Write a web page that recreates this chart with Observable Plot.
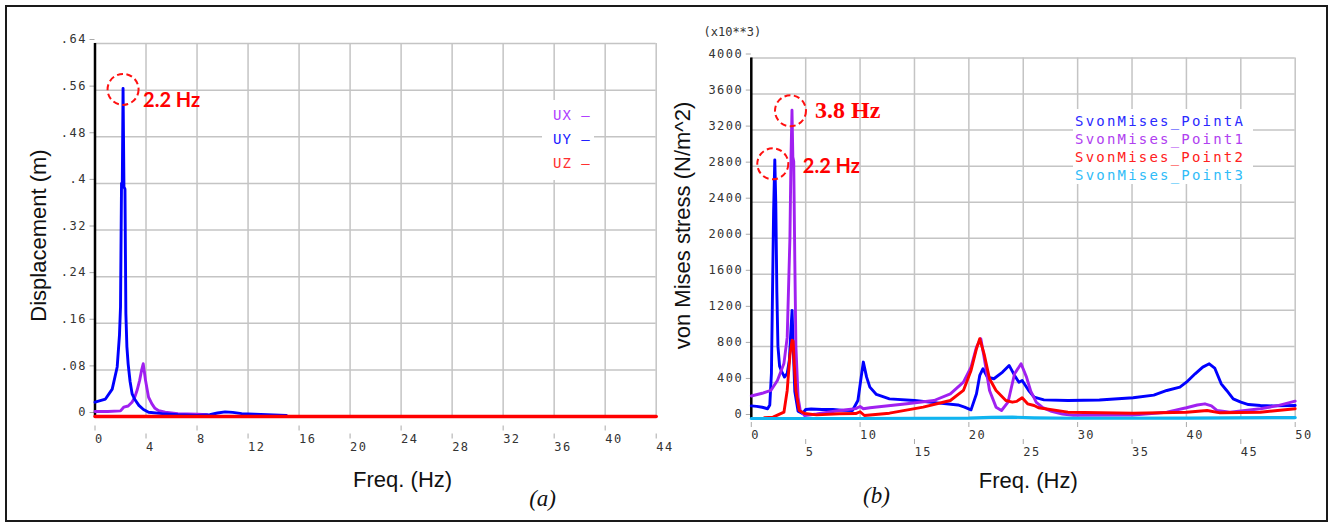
<!DOCTYPE html>
<html><head><meta charset="utf-8">
<script src="https://cdn.jsdelivr.net/npm/d3@7"></script>
<script src="https://cdn.jsdelivr.net/npm/@observablehq/plot@0.6"></script>
<style>
html,body{margin:0;padding:0;background:#fff;}
#wrap{position:relative;width:1338px;height:524px;overflow:hidden;background:#fff;}
#frame{position:absolute;left:5px;top:5px;width:1323px;height:517px;border:2px solid #1a1a1a;box-sizing:border-box;}
.panel{position:absolute;top:0;}
.legend{position:absolute;background:#fff;font-family:"DejaVu Sans Mono",monospace;font-size:14px;}
.legend div{white-space:pre;position:absolute;left:0;}
</style></head><body>
<div id="wrap">
  <div id="frame"></div>
  <div id="left" class="panel" style="left:0"></div>
  <div id="right" class="panel" style="left:669px"></div>
  <div id="legL" class="legend"></div>
  <div id="legR" class="legend"></div>
</div>
<script>
// ---------- Panel (a): displacement ----------
const xTicksLeft = [0, 4, 8, 12, 16, 20, 24, 28, 32, 36, 40, 44];
const yTicksLeft = [0, 0.08, 0.16, 0.24, 0.32, 0.4, 0.48, 0.56, 0.64];
const leftNames = ["UX", "UY", "UZ"];
const leftColors = ["#a020f0", "#0000ff", "#ff0000"];
const leftLegendColors = ["#b040ff", "#2020ff", "#ff3030"];

const uxFreq = [0, 1.0, 2.0, 2.25, 2.6, 2.9, 3.1, 3.3, 3.5, 3.65, 3.78, 3.88, 3.96, 4.2, 4.45, 4.7, 5.0, 5.5, 6.5, 8.0, 8.8];
const uxVal  = [0.0085, 0.0085, 0.0097, 0.016, 0.018, 0.0245, 0.032, 0.045, 0.062, 0.079, 0.0905, 0.075, 0.062, 0.033, 0.022, 0.014, 0.010, 0.0074, 0.005, 0.004, 0.003];
const uyFreq = [0, 0.82, 1.35, 1.74, 1.92, 2.0, 2.08, 2.14, 2.2, 2.27, 2.35, 2.42, 2.5, 2.6, 2.75, 2.91, 3.1, 3.44, 3.8, 4.2, 5.27, 6.5, 8.0, 9.0, 9.6, 10.2, 10.8, 11.5, 12.5, 13.5, 15.0];
const uyVal  = [0.0245, 0.030, 0.047, 0.085, 0.14, 0.188, 0.40, 0.40, 0.563, 0.394, 0.39, 0.177, 0.12, 0.090, 0.06, 0.039, 0.03, 0.019, 0.012, 0.0074, 0.005, 0.003, 0.002, 0.003, 0.006, 0.008, 0.007, 0.005, 0.004, 0.003, 0.002];
const uzFreq = [0, 11, 22, 33, 44];
const uzVal  = [0, 0, 0, 0, 0];

const leftPeakFreq = [2.2];
const leftPeakVal = [0.563];
const leftPeakLabel = ["2.2 Hz"];

// ---------- Panel (b): von Mises stress (x10^3) ----------
const xTicksRight = [0, 5, 10, 15, 20, 25, 30, 35, 40, 45, 50];
const yTicksRight = [0, 400, 800, 1200, 1600, 2000, 2400, 2800, 3200, 3600, 4000];
const rightNames = ["SvonMises_PointA", "SvonMises_Point1", "SvonMises_Point2", "SvonMises_Point3"];
const rightColors = ["#0000ff", "#a020f0", "#ff0000", "#10b4f0"];
const rightLegendColors = ["#2a2aff", "#b040f0", "#ff2020", "#30bcf8"];

const pAFreq = [0, 0.5, 1.0, 1.5, 1.7, 1.85, 1.95, 2.05, 2.16, 2.25, 2.35, 2.45, 2.6, 2.8, 3.05, 3.3, 3.5, 3.65, 3.75, 3.85, 4.0, 4.3, 4.7, 5.0, 5.5, 6.5, 7.5, 8.5, 9.3, 9.8, 10.1, 10.3, 10.6, 10.9, 11.5, 12.7, 15.0, 17.3, 19.0, 19.6, 20.2, 20.7, 21.0, 21.3, 21.7, 22.3, 23.1, 23.7, 24.2, 24.6, 24.9, 25.5, 26.0, 26.9, 29.1, 32.0, 35.1, 37.0, 38.2, 39.4, 40.0, 40.8, 41.5, 42.1, 42.6, 43.2, 43.7, 44.3, 45.0, 45.7, 46.8, 48.0, 50.0];
const pAVal  = [140, 135, 125, 108, 150, 500, 1400, 2300, 2870, 2400, 1400, 800, 580, 520, 460, 500, 650, 1000, 1200, 800, 300, 80, 55, 100, 105, 100, 100, 90, 89, 200, 459, 626, 459, 348, 267, 218, 200, 170, 150, 126, 96, 274, 478, 552, 459, 441, 515, 589, 478, 403, 422, 311, 237, 207, 200, 205, 230, 260, 311, 348, 403, 496, 570, 607, 560, 385, 311, 218, 181, 155, 144, 140, 144];
const p1Freq = [0, 1.0, 1.8, 2.4, 3.0, 3.3, 3.55, 3.65, 3.74, 3.82, 3.9, 4.0, 4.1, 4.3, 4.5, 4.9, 6.0, 8.1, 9.6, 10.0, 10.3, 10.9, 14.3, 16.8, 18.3, 19.5, 20.2, 20.7, 21.1, 21.4, 21.9, 22.5, 23.0, 23.6, 24.2, 24.8, 25.3, 25.7, 26.2, 26.8, 27.6, 28.6, 29.6, 35.1, 38.2, 40.0, 41.0, 41.7, 42.3, 42.8, 44.0, 46.8, 48.5, 50.0];
const p1Val  = [250, 280, 311, 422, 611, 900, 2000, 2900, 3420, 2900, 2850, 1750, 800, 233, 89, 33, 50, 89, 110, 133, 108, 119, 163, 200, 274, 403, 570, 792, 885, 681, 311, 126, 89, 181, 496, 607, 459, 300, 180, 120, 80, 50, 35, 38, 70, 119, 150, 163, 140, 89, 70, 108, 145, 193];
const p2Freq = [1.2, 2.0, 3.0, 3.3, 3.55, 3.75, 3.85, 3.95, 4.1, 4.4, 4.9, 6.0, 8.1, 9.6, 10.0, 10.4, 12.7, 15.8, 18.3, 19.5, 20.2, 20.7, 21.0, 21.4, 21.9, 22.5, 23.4, 24.0, 24.4, 24.9, 25.4, 26.0, 26.4, 29.1, 35.1, 40.0, 41.9, 43.1, 46.8, 50.0];
const p2Val  = [10, 15, 70, 311, 700, 870, 860, 600, 311, 89, 55, 40, 52, 55, 75, 33, 59, 126, 200, 311, 533, 774, 885, 718, 441, 311, 200, 181, 190, 230, 163, 144, 119, 70, 59, 70, 89, 63, 70, 108];
const p3Freq = [0, 10, 20, 22, 24, 26, 30, 40, 50];
const p3Val  = [0, 0, 5, 12, 15, 8, 3, 5, 10];

const rightPeakFreq = [2.16, 3.74];
const rightPeakVal = [2870, 3420];
const rightPeakLabel = ["2.2 Hz", "3.8 Hz"];

// ---------- build tables ----------
const rows = (fs, vs) => fs.map((f, i) => ({f, v: vs[i]}));
const leftSeries = [rows(uxFreq, uxVal), rows(uyFreq, uyVal), rows(uzFreq, uzVal)];
const rightSeries = [rows(pAFreq, pAVal), rows(p1Freq, p1Val), rows(p2Freq, p2Val), rows(p3Freq, p3Val)];
const leftAnn = leftPeakFreq.map((f, i) => ({f, v: leftPeakVal[i], label: leftPeakLabel[i]}));
const rightAnn = rightPeakFreq.map((f, i) => ({f, v: rightPeakVal[i], label: rightPeakLabel[i]}));

const tickFont = "DejaVu Sans Mono";
const gridStyle = {stroke: "#c4c4c4", strokeOpacity: 1, strokeWidth: 1.5};
const titleStyle = {fontFamily: "Liberation Sans", fontSize: 22, fill: "#111", lineAnchor: "middle", textAnchor: "middle"};
const fmtLeft = d => d === 0 ? "0" : String(d).replace(/^0\./, ".");

function finish(svg) {
  d3.select(svg).selectAll('g[aria-label="y-axis tick label"], g[aria-label="x-axis tick label"]').attr("letter-spacing", "1.5px");
  return svg;
}

const even = a => a.filter((d, i) => i % 2 === 0);
const odd = a => a.filter((d, i) => i % 2 === 1);

// ---------- Left plot ----------
const leftPlot = Plot.plot({
  width: 669, height: 524,
  marginLeft: 94.5, marginRight: 13.3, marginTop: 43, marginBottom: 108,
  x: {domain: [0, 44]},
  y: {domain: [0, 0.64]},
  style: {background: "transparent", overflow: "visible"},
  marks: [
    Plot.gridX(xTicksLeft, gridStyle),
    Plot.gridY(yTicksLeft, gridStyle),
    Plot.axisY(yTicksLeft, {tickSize: 5, stroke: "#aaa", tickPadding: 3, dy: -4, fill: "#333", fontFamily: tickFont, fontSize: 12, tickFormat: fmtLeft, label: null}),
    Plot.axisX(even(xTicksLeft), {tickSize: 5, stroke: "#aaa", tickPadding: 3, dy: 9.5, textAnchor: "start", fill: "#333", fontFamily: tickFont, fontSize: 12, label: null}),
    Plot.axisX(odd(xTicksLeft), {tickSize: 5, stroke: "#aaa", tickPadding: 3, dy: 17.5, textAnchor: "start", fill: "#333", fontFamily: tickFont, fontSize: 12, label: null}),
    Plot.ruleX([0], {stroke: "#000", strokeWidth: 2.5}),
    ...leftSeries.map((s, i) => Plot.line(s, {x: "f", y: "v", stroke: leftColors[i], strokeWidth: i === 2 ? 3.5 : 2.9, strokeLinejoin: "round"})),
    Plot.dot(leftAnn, {x: "f", y: "v", r: 15.5, dy: 1, stroke: "#ff1010", strokeWidth: 2, strokeDasharray: "6,3.5", fill: "none"}),
    Plot.text(leftAnn, {x: "f", y: "v", text: "label", dx: 20, dy: 12, textAnchor: "start", lineAnchor: "middle", fontFamily: "Lato", fontWeight: "bold", fontSize: 20, fill: "#ff0000"}),
    Plot.text(["Displacement (m)"], {text: d => d, frameAnchor: "left", rotate: -90, dx: -56.5, dy: 5.5, ...titleStyle}),
    Plot.text(["Freq. (Hz)"], {text: d => d, frameAnchor: "bottom", dx: 27, dy: 63, ...titleStyle}),
    Plot.text(["(a)"], {text: d => d, frameAnchor: "bottom", dx: 167, dy: 82, fontFamily: "Liberation Serif", fontStyle: "italic", fontSize: 23, fill: "#111", lineAnchor: "middle", textAnchor: "middle"})
  ]
});
document.getElementById("left").appendChild(finish(leftPlot));

// ---------- Right plot ----------
const rightPlot = Plot.plot({
  width: 669, height: 524,
  marginLeft: 81.8, marginRight: 43.3, marginTop: 57.5, marginBottom: 106,
  x: {domain: [0, 50]},
  y: {domain: [0, 4000]},
  style: {background: "transparent", overflow: "visible"},
  marks: [
    Plot.gridX(xTicksRight, gridStyle),
    Plot.gridY(yTicksRight, gridStyle),
    Plot.axisY(yTicksRight, {tickSize: 5, stroke: "#aaa", tickPadding: 3, dy: -4, fill: "#333", fontFamily: tickFont, fontSize: 12, tickFormat: d => String(d), label: null}),
    Plot.axisX(even(xTicksRight), {tickSize: 5, stroke: "#aaa", tickPadding: 3, dy: 4, textAnchor: "start", fill: "#333", fontFamily: tickFont, fontSize: 12, label: null}),
    Plot.axisX(odd(xTicksRight), {tickSize: 5, stroke: "#aaa", tickPadding: 3, dy: 21, textAnchor: "start", fill: "#333", fontFamily: tickFont, fontSize: 12, label: null}),
    Plot.ruleX([0], {stroke: "#000", strokeWidth: 2.5}),
    ...rightSeries.map((s, i) => Plot.line(s, {x: "f", y: "v", stroke: rightColors[i], strokeWidth: i === 3 ? 3.2 : 2.9, strokeLinejoin: "round"})),
    Plot.dot(rightAnn.filter((d, i) => i === 0), {x: "f", y: "v", r: 15.5, dx: -2, dy: 4, stroke: "#ff1010", strokeWidth: 2, strokeDasharray: "6,3.5", fill: "none"}),
    Plot.dot(rightAnn.filter((d, i) => i === 1), {x: "f", y: "v", r: 15.5, dx: -1.5, dy: 0.5, stroke: "#ff1010", strokeWidth: 2, strokeDasharray: "6,3.5", fill: "none"}),
    Plot.text(rightAnn.filter((d, i) => i === 0), {x: "f", y: "v", text: "label", dx: 28, dy: 7, textAnchor: "start", lineAnchor: "middle", fontFamily: "Lato", fontWeight: "bold", fontSize: 20, fill: "#ff0000"}),
    Plot.text(rightAnn.filter((d, i) => i === 1), {x: "f", y: "v", text: "label", dx: 23, dy: 0, textAnchor: "start", lineAnchor: "middle", fontFamily: "Liberation Serif", fontWeight: "bold", fontSize: 24, fill: "#ff0000"}),
    Plot.text(["(x10**3)"], {text: d => d, frameAnchor: "top-left", dx: -47.8, dy: -25.5, textAnchor: "start", lineAnchor: "middle", fontFamily: tickFont, fontSize: 12, fill: "#333"}),
    Plot.text(["von Mises stress (N/m^2)"], {text: d => d, frameAnchor: "left", rotate: -90, dx: -68.3, dy: -12.75, ...titleStyle}),
    Plot.text(["Freq. (Hz)"], {text: d => d, frameAnchor: "bottom", dx: 5, dy: 62, ...titleStyle}),
    Plot.text(["(b)"], {text: d => d, frameAnchor: "bottom", dx: -146.75, dy: 77, fontFamily: "Liberation Serif", fontStyle: "italic", fontSize: 23, fill: "#111", lineAnchor: "middle", textAnchor: "middle"})
  ]
});
document.getElementById("right").appendChild(finish(rightPlot));

// ---------- Legends (HTML overlays with white background) ----------
function buildLegend(id, names, colors, box, lineH, firstCenter, padLeft, suffix, spacing) {
  const el = document.getElementById(id);
  Object.assign(el.style, {left: box[0] + "px", top: box[1] + "px", width: box[2] + "px", height: box[3] + "px"});
  names.forEach((n, i) => {
    const d = document.createElement("div");
    d.textContent = n + suffix;
    Object.assign(d.style, {color: colors[i], top: (firstCenter + i * lineH - 9) + "px", left: padLeft + "px", lineHeight: "18px", letterSpacing: spacing});
    el.appendChild(d);
  });
}
buildLegend("legL", leftNames, leftLegendColors, [542, 100, 52, 80], 24, 15, 11, " —", "1px");
buildLegend("legR", rightNames, rightLegendColors, [1073, 109, 180, 75], 18, 12, 2, "", "2.2px");
</script>
</body></html>
